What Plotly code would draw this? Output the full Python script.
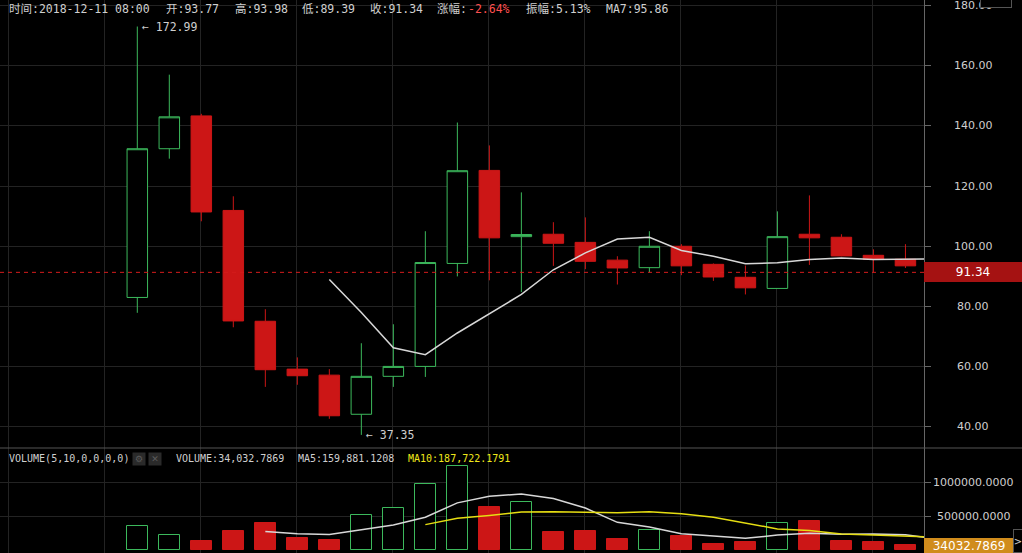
import plotly.graph_objects as go

# ---------------- data ----------------
idx = list(range(26))
opens = [83.0, 132.4, 143.3, 111.9, 75.1, 59.2, 57.2, 44.2, 56.8, 60.1, 94.3, 125.2, 103.2,
         104.0, 101.3, 95.4, 92.9, 100.0, 94.0, 89.7, 86.0, 104.0, 103.0, 97.0, 95.7, 93.77]
highs = [172.99, 157.0, 144.0, 116.6, 79.1, 63.1, 59.2, 67.8, 74.1, 105.0, 141.1, 133.5, 117.9,
         108.0, 109.6, 96.7, 105.0, 100.7, 94.3, 93.6, 111.6, 116.9, 104.0, 99.0, 100.7, 93.98]
lows = [77.9, 129.1, 108.3, 73.1, 53.3, 54.0, 42.7, 37.35, 53.3, 56.6, 90.0, 88.7, 84.8,
        93.5, 92.4, 87.3, 91.3, 90.4, 88.5, 84.0, 86.0, 93.8, 96.7, 91.4, 92.8, 89.39]
closes = [132.4, 143.0, 111.4, 75.2, 59.0, 57.0, 43.7, 56.8, 60.1, 94.6, 125.1, 102.8, 103.9,
          101.0, 95.0, 92.8, 100.0, 93.5, 89.8, 86.2, 103.2, 102.8, 96.8, 95.6, 93.5, 91.34]
volumes = [350000, 217000, 133000, 281000, 399000, 177000, 148000, 512000, 616000, 970000,
           1236000, 635000, 704000, 266000, 281000, 162000, 291000, 207000, 89000, 118000,
           394000, 428000, 133000, 118000, 74000, 34032.7869]
ma7 = [89.0, 78.0, 66.3, 64.0, 71.2, 77.5, 84.0, 92.2, 97.8, 102.4, 103.0, 98.6, 96.7, 94.2,
       94.5, 95.6, 96.1, 95.6, 95.6, 95.86]                      # from index 6
vol_ma5 = [273000, 241000, 228000, 303000, 370000, 485000, 696000, 794000, 828000, 762000,
           620000, 409000, 341000, 241000, 206000, 173000, 220000, 247000, 232000, 236000,
           226000, 159881.1208]                                  # from index 4
vol_ma10 = [375000, 469000, 511000, 562000, 566000, 555000, 550000, 567000, 535000, 484000,
            401000, 312000, 288000, 236000, 222000, 205000, 187722.1791]  # from index 9
last_price = 91.34
price_ticks = [40, 60, 80, 100, 120, 140, 160, 180]
vol_ticks = [500000, 1000000]
vgrid = [-4, -1, 2, 5, 8, 11, 14, 17, 20, 23]

# ---------------- style ----------------
W, H = 1022, 553
PW = 924          # plot width (px)
SPLIT = 448       # px where price pane ends
RED = "#cc1616"
GREEN = "#3cb95c"
GRID = "#232323"
AXC = "#666666"
TXT = "#cfcfcf"
MONO = "DejaVu Sans Mono, Noto Sans CJK SC, monospace"
SANS = "DejaVu Sans, Noto Sans, sans-serif"


def px_x(px):
    return px / PW


def px_y(py):
    return 1 - py / H


fig = go.Figure()

fig.add_trace(go.Candlestick(
    x=idx, open=opens, high=highs, low=lows, close=closes,
    increasing=dict(line=dict(color=GREEN, width=1), fillcolor="#000000"),
    decreasing=dict(line=dict(color=RED, width=1), fillcolor=RED),
    whiskerwidth=0, showlegend=False, hoverinfo="skip",
    xaxis="x", yaxis="y"))

fig.add_trace(go.Scatter(
    x=idx[6:], y=ma7, mode="lines", line=dict(color="#d8d8d8", width=1.5),
    showlegend=False, hoverinfo="skip", xaxis="x", yaxis="y"))

up = [c >= o for o, c in zip(opens, closes)]
fig.add_trace(go.Bar(
    x=idx, y=volumes, width=0.64,
    marker=dict(color=["#000000" if u else RED for u in up],
                line=dict(color=[GREEN if u else RED for u in up], width=1)),
    showlegend=False, hoverinfo="skip", xaxis="x2", yaxis="y2"))

fig.add_trace(go.Scatter(
    x=idx[4:], y=vol_ma5, mode="lines", line=dict(color="#d8d8d8", width=1.5),
    showlegend=False, hoverinfo="skip", xaxis="x2", yaxis="y2"))
fig.add_trace(go.Scatter(
    x=idx[9:], y=vol_ma10, mode="lines", line=dict(color="#e6de12", width=1.5),
    showlegend=False, hoverinfo="skip", xaxis="x2", yaxis="y2"))

split = 1 - SPLIT / H
xr = [-4.29, 24.58]
gv = [v - 0.03 for v in vgrid]

fig.update_layout(
    width=W, height=H,
    margin=dict(l=0, r=W - PW, t=0, b=0, pad=0),
    paper_bgcolor="#000000", plot_bgcolor="#000000",
    boxgap=0.36, boxgroupgap=0, boxmode="overlay", bargap=0,
    xaxis=dict(domain=[0, 1], range=xr, anchor="y", tickvals=gv, showticklabels=False,
               showgrid=True, gridcolor=GRID, gridwidth=1, zeroline=False, ticks="",
               rangeslider=dict(visible=False), fixedrange=True),
    xaxis2=dict(domain=[0, 1], range=xr, anchor="y2", matches="x", tickvals=gv,
                showticklabels=False, showgrid=True, gridcolor=GRID, gridwidth=1,
                zeroline=False, ticks="", fixedrange=True),
    yaxis=dict(domain=[split, 1], range=[33.0, 181.8], side="right", anchor="x",
               tickvals=price_ticks, showticklabels=False, ticks="outside", ticklen=6,
               tickcolor=AXC, showgrid=True, gridcolor=GRID, zeroline=False,
               showline=True, linecolor=AXC, linewidth=1, fixedrange=True),
    yaxis2=dict(domain=[0, split], range=[-44000, 1506600], side="right", anchor="x2",
                tickvals=vol_ticks, showticklabels=False, ticks="outside", ticklen=6,
                tickcolor=AXC, showgrid=True, gridcolor=GRID, zeroline=False,
                showline=True, linecolor=AXC, linewidth=1, fixedrange=True),
    hovermode=False,
)

shapes = [
    # pane separator
    dict(type="line", xref="paper", yref="paper", x0=0, x1=W / PW, y0=split, y1=split,
         line=dict(color="#555555", width=1)),
    # last price dashed line
    dict(type="line", xref="paper", yref="y", x0=0, x1=1, y0=last_price, y1=last_price,
         line=dict(color="#d41c1c", width=1, dash="4px,4px")),
]
fig.update_layout(shapes=shapes)

ann = []
# price tick labels
for v in price_ticks:
    ann.append(dict(xref="paper", yref="y", x=px_x(973), y=v, text=f"{v:.2f}",
                    showarrow=False, xanchor="center", yanchor="middle",
                    font=dict(family=SANS, size=11, color=TXT)))
for v in vol_ticks:
    ann.append(dict(xref="paper", yref="y2", x=px_x(973), y=v, text=f"{v:.4f}",
                    showarrow=False, xanchor="center", yanchor="middle",
                    font=dict(family=SANS, size=11, color=TXT)))
# last price label
ann.append(dict(xref="paper", yref="y", x=px_x(973), y=last_price, text=f"{last_price:.2f}",
                showarrow=False, xanchor="center", yanchor="middle", bgcolor="#a51212",
                width=98, height=20, borderpad=0, borderwidth=0,
                font=dict(family=SANS, size=12, color="#ffffff")))
# last volume label
ann.append(dict(xref="paper", yref="paper", x=px_x(969), y=px_y(545.5),
                text=f"{volumes[-1]:.4f}", showarrow=False, xanchor="center",
                yanchor="middle", bgcolor="#d08c1c", width=90, height=15,
                borderpad=0, borderwidth=0,
                font=dict(family=SANS, size=12, color="#ffffff")))
ann.append(dict(xref="paper", yref="paper", x=px_x(1018), y=px_y(541), text=">",
                showarrow=False, xanchor="center", yanchor="middle", bgcolor="#000000",
                bordercolor="#555555", borderwidth=1, borderpad=0, width=8, height=22,
                font=dict(family=SANS, size=10, color="#cccccc")))
# collapse button top right
ann.append(dict(xref="paper", yref="paper", x=px_x(996), y=px_y(0), text="^",
                showarrow=False, xanchor="center", yanchor="middle", bgcolor="#000000",
                bordercolor="#555555", borderwidth=1, borderpad=0, width=30, height=14,
                font=dict(family=SANS, size=9, color="#bbbbbb")))
# high / low markers
ann.append(dict(xref="x", yref="y", x=0, y=max(highs), text=f"← {max(highs):.2f}",
                showarrow=False, xanchor="left", yanchor="middle", xshift=3,
                font=dict(family=MONO, size=11.5, color=TXT)))
ann.append(dict(xref="x", yref="y", x=lows.index(min(lows)), y=min(lows),
                text=f"← {min(lows):.2f}", showarrow=False, xanchor="left",
                yanchor="middle", xshift=3, font=dict(family=MONO, size=11.5, color=TXT)))

# header
header = [
    (7, "时间:2018-12-11 08:00", TXT),
    (164, "开:93.77", TXT),
    (233, "高:93.98", TXT),
    (300, "低:89.39", TXT),
    (368, "收:91.34", TXT),
    (435, "涨幅:", TXT),
    (466, "-2.64%", "#ff4f4f"),
    (524, "振幅:5.13%", TXT),
    (604, "MA7:95.86", TXT),
]
for xp, t, c in header:
    ann.append(dict(xref="paper", yref="paper", x=px_x(xp), y=px_y(8.5), text=t,
                    showarrow=False, xanchor="left", yanchor="middle",
                    font=dict(family=MONO, size=11.5, color=c)))

vhead = [
    (7, "VOLUME(5,10,0,0,0,0)", TXT),
    (174, "VOLUME:34,032.7869", TXT),
    (296, "MA5:159,881.1208", TXT),
    (406, "MA10:187,722.1791", "#f0e81a"),
]
for xp, t, c in vhead:
    ann.append(dict(xref="paper", yref="paper", x=px_x(xp), y=px_y(458.5), text=t,
                    showarrow=False, xanchor="left", yanchor="middle",
                    font=dict(family=MONO, size=10, color=c)))
for xp, sym in [(139, "⚙"), (155, "✕")]:
    ann.append(dict(xref="paper", yref="paper", x=px_x(xp), y=px_y(458.5), text=sym,
                    showarrow=False, xanchor="center", yanchor="middle",
                    bgcolor="#2a2a2a", width=12, height=12, borderpad=0,
                    font=dict(family=SANS, size=9, color="#5a5a5a")))

fig.update_layout(annotations=ann)
fig.write_html(
    "out.html",
    config={"displayModeBar": False},
    post_script="document.body.style.margin='0';document.body.style.padding='0';"
                "document.body.style.background='#000';document.body.style.overflow='hidden';",
)
